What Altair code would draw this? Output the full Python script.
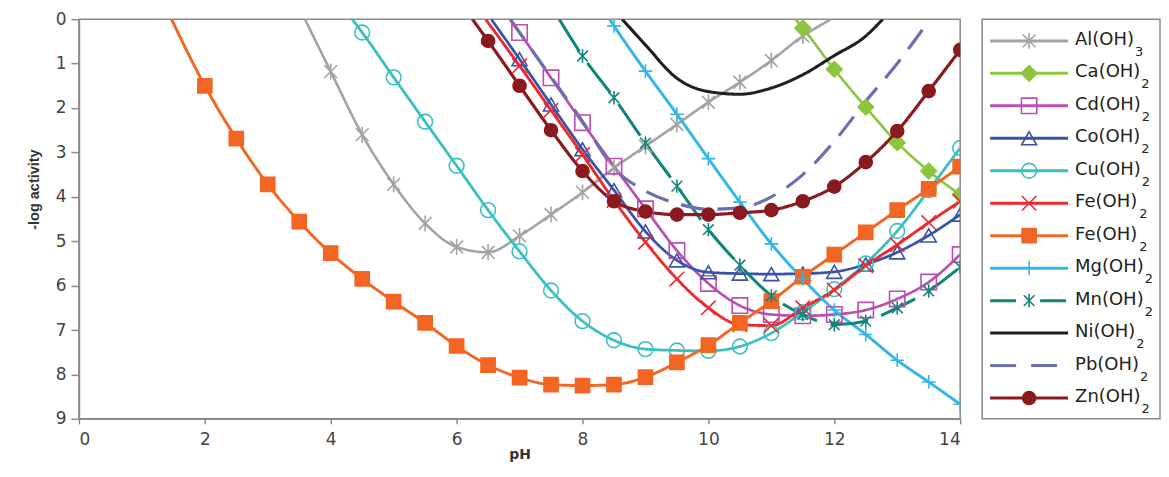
import altair as alt
import pandas as pd

# ---------------- data ----------------
keys = ["Al", "Ca", "Cd", "Co", "Cu", "FeR", "FeO", "Mg", "Mn", "Ni", "Pb", "Zn"]
names = ["Al(OH)", "Ca(OH)", "Cd(OH)", "Co(OH)", "Cu(OH)", "Fe(OH)",
         "Fe(OH)", "Mg(OH)", "Mn(OH)", "Ni(OH)", "Pb(OH)", "Zn(OH)"]
subs = ["3", "2", "2", "2", "2", "2", "2", "2", "2", "2", "2", "2"]

al_ph = [3.59, 4, 4.5, 5, 5.5, 6, 6.5, 7, 7.5, 8, 8.5, 9, 9.5, 10, 10.5, 11, 11.5, 11.95]
al_val = [0, 1.18, 2.6, 3.72, 4.6, 5.13, 5.25, 4.88, 4.4, 3.9, 3.35, 2.86, 2.37, 1.87, 1.42, 0.93, 0.38, 0]

ca_ph = [11.38, 11.5, 12, 12.5, 13, 13.5, 14]
ca_val = [0, 0.2, 1.13, 1.98, 2.78, 3.42, 3.95]

cd_ph = [6.85, 7, 7.5, 8, 8.5, 9, 9.5, 10, 10.5, 11, 11.5, 12, 12.5, 13, 13.5, 14]
cd_val = [0, 0.3, 1.32, 2.33, 3.31, 4.27, 5.21, 5.95, 6.45, 6.65, 6.68, 6.65, 6.55, 6.3, 5.92, 5.3]

co_ph = [6.55, 7, 7.5, 8, 8.5, 9, 9.5, 10, 10.5, 11, 11.5, 12, 12.5, 13, 13.5, 14]
co_val = [0, 0.9, 1.92, 2.93, 3.85, 4.78, 5.43, 5.7, 5.73, 5.74, 5.73, 5.69, 5.52, 5.25, 4.87, 4.4]

cu_ph = [4.34, 4.5, 5, 5.5, 6, 6.5, 7, 7.5, 8, 8.5, 9, 9.5, 10, 10.5, 11, 11.5, 12, 12.5, 13, 13.5, 14]
cu_val = [0, 0.3, 1.31, 2.31, 3.3, 4.3, 5.23, 6.11, 6.8, 7.23, 7.43, 7.46, 7.47, 7.37, 7.07, 6.6, 6.08, 5.5, 4.77, 3.85, 2.9]

fer_ph = [6.46, 7, 7.5, 8, 8.5, 9, 9.5, 10, 10.5, 11, 11.5, 12, 12.5, 13, 13.5, 14]
fer_val = [0, 1.05, 2.05, 3.05, 4.08, 5.02, 5.85, 6.5, 6.88, 6.9, 6.5, 6.1, 5.55, 5.08, 4.58, 4.1]

feo_ph = [1.47, 2, 2.5, 3, 3.5, 4, 4.5, 5, 5.5, 6, 6.5, 7, 7.5, 8, 8.5, 9, 9.5, 10,
          10.5, 11, 11.5, 12, 12.5, 13, 13.5, 14]
feo_val = [0, 1.5, 2.69, 3.72, 4.56, 5.27, 5.85, 6.36, 6.84, 7.36, 7.79, 8.07, 8.23, 8.25,
           8.23, 8.06, 7.73, 7.34, 6.84, 6.35, 5.8, 5.3, 4.8, 4.3, 3.82, 3.32]

mg_ph = [8.43, 8.5, 9, 9.5, 10, 10.5, 11, 11.5, 12, 12.5, 13, 13.5, 14]
mg_val = [0, 0.15, 1.17, 2.14, 3.14, 4.12, 5.06, 5.85, 6.55, 7.1, 7.68, 8.17, 8.67]

mn_ph = [7.63, 8, 8.5, 9, 9.5, 10, 10.5, 11, 11.5, 12, 12.5, 13, 13.5, 14]
mn_val = [0, 0.83, 1.77, 2.79, 3.76, 4.74, 5.54, 6.23, 6.65, 6.88, 6.8, 6.5, 6.12, 5.58]

ni_ph = [8.63, 9, 9.5, 10, 10.5, 11, 11.5, 12, 12.5, 12.77]
ni_val = [0, 0.58, 1.33, 1.63, 1.69, 1.55, 1.25, 0.82, 0.38, 0]

pb_ph = [6.85, 7, 7.5, 8, 8.5, 9, 9.5, 10, 10.5, 11, 11.5, 12, 12.5, 13, 13.52]
pb_val = [0, 0.3, 1.3, 2.3, 3.35, 3.87, 4.15, 4.28, 4.25, 4.0, 3.5, 2.75, 1.85, 1.0, 0]

zn_ph = [6.25, 6.5, 7, 7.5, 8, 8.5, 9, 9.5, 10, 10.5, 11, 11.5, 12, 12.5, 13, 13.5, 14]
zn_val = [0, 0.49, 1.5, 2.5, 3.42, 4.1, 4.33, 4.4, 4.4, 4.36, 4.3, 4.1, 3.77, 3.22, 2.52, 1.62, 0.69]

x_ticks = [0, 2, 4, 6, 8, 10, 12, 14]
y_ticks = [0, 1, 2, 3, 4, 5, 6, 7, 8, 9]

# ---------------- styles ----------------
colors = ["#a3a3a3", "#8cc63e", "#b94fb1", "#3a53a6", "#3cbfbf", "#ec2a2e",
          "#f26522", "#36b6e8", "#12857a", "#231f20", "#6b6fae", "#8a1a1e"]
ASTER = "M-0.8,-0.8L0.8,0.8M-0.8,0.8L0.8,-0.8M0,-1L0,1"
XMARK = "M-1,-1L1,1M-1,1L1,-1"
PLUS = "M-1,0L1,0M0,-1L0,1"
shapes = [ASTER, "diamond", "square", "triangle-up", "circle", XMARK,
          "square", PLUS, ASTER, "circle", "circle", "circle"]
fills = ["transparent", "#8cc63e", "transparent", "transparent", "transparent", "transparent",
         "#f26522", "transparent", "transparent", "transparent", "transparent", "#8a1a1e"]
sizes = [256, 170, 225, 180, 169, 196, 100, 324, 300, 0, 0, 72]
has_marker = [True, True, True, True, True, True, True, True, True, False, False, True]
widths = [2.6, 3.2, 2.6, 2.6, 2.6, 2.6, 2.6, 2.6, 2.8, 2.6, 2.6, 2.6]
dashes = [[1, 0], [1, 0], [1, 0], [1, 0], [1, 0], [1, 0], [1, 0], [1, 0],
          [38, 14], [1, 0], [24, 13], [1, 0]]
leg_dashes = [[1, 0], [1, 0], [1, 0], [1, 0], [1, 0], [1, 0], [1, 0], [1, 0],
              [26, 24], [1, 0], [26, 15], [1, 0]]

series = {
    "Al": (al_ph, al_val), "Ca": (ca_ph, ca_val), "Cd": (cd_ph, cd_val),
    "Co": (co_ph, co_val), "Cu": (cu_ph, cu_val), "FeR": (fer_ph, fer_val),
    "FeO": (feo_ph, feo_val), "Mg": (mg_ph, mg_val), "Mn": (mn_ph, mn_val),
    "Ni": (ni_ph, ni_val), "Pb": (pb_ph, pb_val), "Zn": (zn_ph, zn_val),
}

rows = []
for i, k in enumerate(keys):
    ph, val = series[k]
    for p, v in zip(ph, val):
        mk = has_marker[i] and v > 0 and abs(p * 2 - round(p * 2)) < 1e-9
        rows.append({"key": k, "ph": p, "val": v, "mk": mk, "order": i})
df = pd.DataFrame(rows)

FONT = "DejaVu Sans"

color_sc = alt.Scale(domain=keys, range=colors)
x_sc = alt.Scale(domain=[0, 14], nice=False, zero=False)
y_sc = alt.Scale(domain=[0, 9], reverse=True, nice=False)

xenc = alt.X("ph:Q", scale=x_sc,
             axis=alt.Axis(values=x_ticks, format="d", title="pH", tickSize=5, labelPadding=8,
                           titleFont=FONT, titleFontSize=14, titleFontWeight="bold",
                           titleColor="#333", titlePadding=0))
yenc = alt.Y("val:Q", scale=y_sc,
             axis=alt.Axis(values=y_ticks, format="d", title="-log activity", tickSize=8,
                           labelPadding=5, titleFont="Liberation Sans", titleFontSize=14.5,
                           titleFontWeight="bold", titleColor="#333", titlePadding=14,
                           titleY=170))

lines = alt.Chart(df).mark_line(interpolate="monotone", clip=True).encode(
    x=xenc, y=yenc,
    color=alt.Color("key:N", scale=color_sc, legend=None),
    strokeDash=alt.StrokeDash("key:N", scale=alt.Scale(domain=keys, range=dashes), legend=None),
    strokeWidth=alt.StrokeWidth("key:N", scale=alt.Scale(domain=keys, range=widths), legend=None),
    detail="key:N",
    order="order:Q",
)

mk_keys = [k for k, h in zip(keys, has_marker) if h]
mk_idx = [i for i, h in enumerate(has_marker) if h]
points = alt.Chart(df).transform_filter("datum.mk").mark_point(
    opacity=1, strokeWidth=1.6, clip=True).encode(
    x=alt.X("ph:Q", scale=x_sc),
    y=alt.Y("val:Q", scale=y_sc),
    shape=alt.Shape("key:N", scale=alt.Scale(domain=mk_keys, range=[shapes[i] for i in mk_idx]), legend=None),
    stroke=alt.Stroke("key:N", scale=alt.Scale(domain=mk_keys, range=[colors[i] for i in mk_idx]), legend=None),
    fill=alt.Fill("key:N", scale=alt.Scale(domain=mk_keys, range=[fills[i] for i in mk_idx]), legend=None),
    size=alt.Size("key:N", scale=alt.Scale(domain=mk_keys, range=[sizes[i] for i in mk_idx]), legend=None),
)

main = alt.layer(lines, points).properties(width=882, height=400)

# ---------------- legend ----------------
cw = {"A": 0.684, "l": 0.278, "(": 0.390, "O": 0.787, "H": 0.752, ")": 0.390, "C": 0.698,
      "a": 0.613, "d": 0.635, "o": 0.612, "u": 0.634, "F": 0.575, "e": 0.615, "M": 0.863,
      "g": 0.635, "n": 0.634, "N": 0.748, "i": 0.278, "P": 0.603, "b": 0.635, "Z": 0.685}
LFS = 18
TX = 93
leg = pd.DataFrame({
    "idx": list(range(len(keys))),
    "key": keys,
    "name": names,
    "sub": subs,
    "sx": [TX + sum(cw.get(c, 0.6) for c in n) * LFS + 1 for n in names],
    "mk": has_marker,
})
ly = alt.Y("idx:Q", scale=alt.Scale(domain=[-0.668, 11.64], reverse=True, nice=False, zero=False), axis=None)

leg_lines = alt.Chart(leg).mark_rule(strokeWidth=3).encode(
    x=alt.value(8), x2=alt.value(86), y=ly,
    color=alt.Color("key:N", scale=color_sc, legend=None),
    strokeDash=alt.StrokeDash("key:N", scale=alt.Scale(domain=keys, range=leg_dashes), legend=None),
)
leg_pts = alt.Chart(leg).transform_filter("datum.mk").mark_point(opacity=1, strokeWidth=1.6).encode(
    x=alt.value(47), y=ly,
    shape=alt.Shape("key:N", scale=alt.Scale(domain=mk_keys, range=[shapes[i] for i in mk_idx]), legend=None),
    stroke=alt.Stroke("key:N", scale=alt.Scale(domain=mk_keys, range=[colors[i] for i in mk_idx]), legend=None),
    fill=alt.Fill("key:N", scale=alt.Scale(domain=mk_keys, range=[fills[i] for i in mk_idx]), legend=None),
    size=alt.Size("key:N", scale=alt.Scale(domain=mk_keys, range=[sizes[i] for i in mk_idx]), legend=None),
)
leg_txt = alt.Chart(leg).mark_text(align="left", baseline="middle", font=FONT, fontSize=LFS,
                                   color="#222", dy=-1).encode(
    x=alt.value(TX), y=ly, text="name:N")
leg_sub = alt.Chart(leg).mark_text(align="left", baseline="middle", font=FONT, fontSize=13,
                                   color="#222", dy=11).encode(
    x=alt.X("sx:Q", scale=None), y=ly, text="sub:N")

legend = alt.layer(leg_lines, leg_pts, leg_txt, leg_sub).properties(width=178, height=400)

chart = alt.hconcat(main, legend, spacing=19).resolve_scale(
    color="independent", strokeDash="independent", shape="independent",
    fill="independent", stroke="independent", size="independent",
    x="independent", y="independent",
).configure_view(
    stroke="#8a8a8a", strokeWidth=1.5
).configure_axis(
    domainColor="#8a8a8a", domainWidth=1.5, tickColor="#8a8a8a", tickWidth=1.5,
    labelColor="#444", labelFont=FONT, labelFontSize=17, grid=False,
).properties(
    padding={"left": 17, "top": 1, "right": 0, "bottom": 0}
)

chart.save("out.html", embed_options={"renderer": "svg", "actions": False})
